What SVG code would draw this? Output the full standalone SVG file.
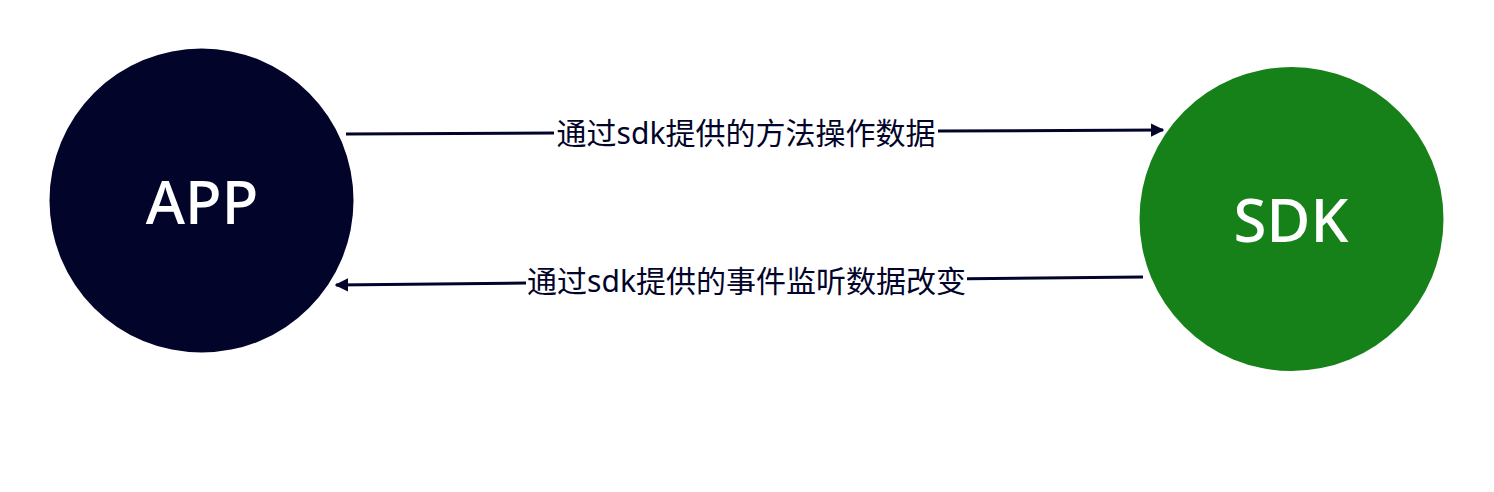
<svg xmlns="http://www.w3.org/2000/svg" width="1494" height="492" viewBox="0 0 1494 492">
<style>
.node-label{font-family:"Noto Sans","Noto Sans CJK SC",sans-serif;font-size:60px;font-weight:500;fill:#ffffff;text-anchor:middle;dominant-baseline:central}
.edge{fill:none;stroke:#02042a;stroke-width:3}
.edge-label{font-family:"Noto Sans","Noto Sans CJK SC",sans-serif;font-size:30px;fill:#02042a;text-anchor:middle;dominant-baseline:central}
</style>
<defs>
<marker id="arrow" viewBox="0 0 10 10" refX="9" refY="5" markerWidth="4.5" markerHeight="4.5" orient="auto" markerUnits="strokeWidth">
<path d="M0,0 L10,5 L0,10 z" fill="#02042a"/>
</marker>
</defs>
<rect width="1494" height="492" fill="#ffffff"/>
<g id="app">
<circle cx="201.5" cy="200.5" r="152" fill="#02042a"/>
<text class="node-label" x="202" y="201">APP</text>
</g>
<g id="sdk">
<circle cx="1291.5" cy="219" r="152" fill="#168019"/>
<text class="node-label" x="1291" y="219">SDK</text>
</g>
<g id="connectors">
<path class="edge" d="M346,134 L554,133"/>
<path class="edge" d="M938,131 L1163,130" marker-end="url(#arrow)"/>
<text class="edge-label" x="746" y="132">通过sdk提供的方法操作数据</text>
<path class="edge" d="M1143,277 L967,278.7"/>
<path class="edge" d="M526,283 L336,285" marker-end="url(#arrow)"/>
<text class="edge-label" x="746.5" y="280">通过sdk提供的事件监听数据改变</text>
</g>
</svg>
